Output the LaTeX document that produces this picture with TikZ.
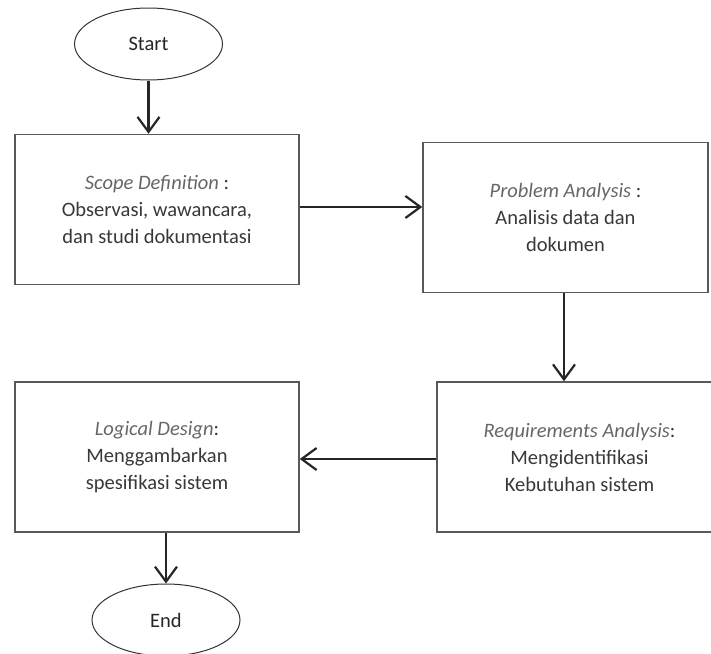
\documentclass[tikz,border=0pt]{standalone}
\usepackage{fontspec}
\setmainfont{Carlito}
\usetikzlibrary{shapes.geometric,arrows.meta}

\begin{document}
\begin{tikzpicture}[x=1pt,y=-1pt,
  box/.style={draw=black!65,line width=1.5pt,rectangle,minimum width=284pt,minimum height=150pt,inner sep=0pt,align=center,text=black!78,font=\fontsize{20.5}{27}\selectfont},
  term/.style={draw=black!80,line width=1pt,ellipse,minimum width=148pt,minimum height=72pt,inner sep=0pt,text=black!85,font=\fontsize{20.5}{25}\selectfont},
  flow/.style={draw=black!85,line width=2.2pt,-{Straight Barb[length=15pt,width=22pt]}}]
\def\topic#1{{\itshape\color{black!60}#1}}

\useasboundingbox (0,0) rectangle (711,653);
\clip (0,0) rectangle (711,653);

% Terminals
\node[term] (start) at (148.5,44) {Start};
\node[term] (end) at (166,620) {End};

% Process steps
\node[box] (scope) at (157,209.5) {\topic{Scope Definition} :\\Observasi, wawancara,\\dan studi dokumentasi};
\node[box,minimum width=285pt] (problem) at (565.5,217.5) {\topic{Problem Analysis} :\\Analisis data dan\\dokumen};
\node[box,minimum width=285pt] (require) at (579.5,457) {\topic{Requirements Analysis}:\\Mengidentifikasi\\Kebutuhan sistem};
\node[box] (logic) at (157,457) {\topic{Logical Design}:\\Menggambarkan\\spesifikasi sistem};

% Connectors
\draw[flow] (start.south) -- (start.south |- scope.north);
\draw[flow] ([yshift=2.5pt]scope.east) -- ([yshift=2.5pt]scope.east -| problem.west);
\draw[flow] ([xshift=-1.5pt]problem.south) -- ([xshift=-1.5pt]problem.south |- require.north);
\draw[flow] ([yshift=-2pt]require.west) -- ([yshift=-2pt]require.west -| logic.east);
\draw[flow] (end.north |- logic.south) -- (end.north);
\end{tikzpicture}
\end{document}
